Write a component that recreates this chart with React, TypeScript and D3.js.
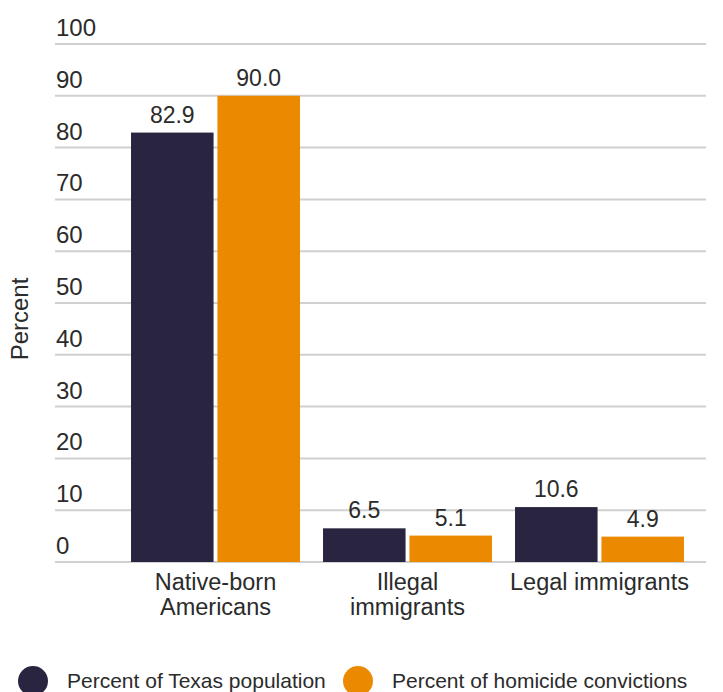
import React from "react";
import * as d3 from "d3";

const categories = ["Native-born Americans", "Illegal immigrants", "Legal immigrants"];
const categoryLines = [["Native-born", "Americans"], ["Illegal", "immigrants"], ["Legal immigrants"]];
const seriesNames = ["Percent of Texas population", "Percent of homicide convictions"];
const populationValues = [82.9, 6.5, 10.6];
const convictionValues = [90.0, 5.1, 4.9];
const yTicks = [0, 10, 20, 30, 40, 50, 60, 70, 80, 90, 100];
const colors = ["#29243f", "#eb8a00"];

const W = 723;
const H = 692;

export default function App() {
  const x0 = d3
    .scaleBand<string>()
    .domain(categories)
    .range([119.5, 695.5])
    .paddingInner(0.12)
    .paddingOuter(0.06);
  const x1 = d3
    .scaleBand<string>()
    .domain(seriesNames)
    .range([0, x0.bandwidth()])
    .paddingInner(0.045)
    .paddingOuter(0);
  const y = d3.scaleLinear().domain([0, 100]).range([562, 44]);
  const series = [populationValues, convictionValues];
  const font = "'Liberation Sans', Arial, sans-serif";

  return (
    <svg
      width={W}
      height={H}
      style={{ position: "absolute", left: 0, top: 0, background: "#fff" }}
    >
      {yTicks.map((t) => (
        <g key={t}>
          <line x1={55} x2={706} y1={y(t)} y2={y(t)} stroke="#d0d0d0" strokeWidth={2} />
          <text x={56} y={y(t) - 8} fontFamily={font} fontSize={24} fill="#2b2b2b">
            {t}
          </text>
        </g>
      ))}
      <text
        transform={`translate(28,319) rotate(-90)`}
        textAnchor="middle"
        fontFamily={font}
        fontSize={24}
        fill="#2b2b2b"
      >
        Percent
      </text>
      {categories.map((c, ci) => (
        <g key={c} transform={`translate(${x0(c)},0)`}>
          {seriesNames.map((s, si) => {
            const v = series[si][ci];
            const bx = x1(s)!;
            return (
              <g key={s}>
                <rect
                  x={bx}
                  y={y(v)}
                  width={x1.bandwidth()}
                  height={y(0) - y(v)}
                  fill={colors[si]}
                />
                <text
                  x={bx + x1.bandwidth() / 2}
                  y={y(v) - 10}
                  textAnchor="middle"
                  fontFamily={font}
                  fontSize={23}
                  fill="#2b2b2b"
                >
                  {v.toFixed(1)}
                </text>
              </g>
            );
          })}
          {categoryLines[ci].map((line, li) => (
            <text
              key={li}
              x={x0.bandwidth() / 2}
              y={590 + li * 25}
              textAnchor="middle"
              fontFamily={font}
              fontSize={23.5}
              fill="#2b2b2b"
            >
              {line}
            </text>
          ))}
        </g>
      ))}
      {seriesNames.map((s, si) => {
        const lx = si === 0 ? 33 : 358;
        return (
          <g key={s}>
            <circle cx={lx} cy={681} r={15} fill={colors[si]} />
            <text x={lx + 34} y={688} fontFamily={font} fontSize={21} fill="#2b2b2b">
              {s}
            </text>
          </g>
        );
      })}
    </svg>
  );
}
